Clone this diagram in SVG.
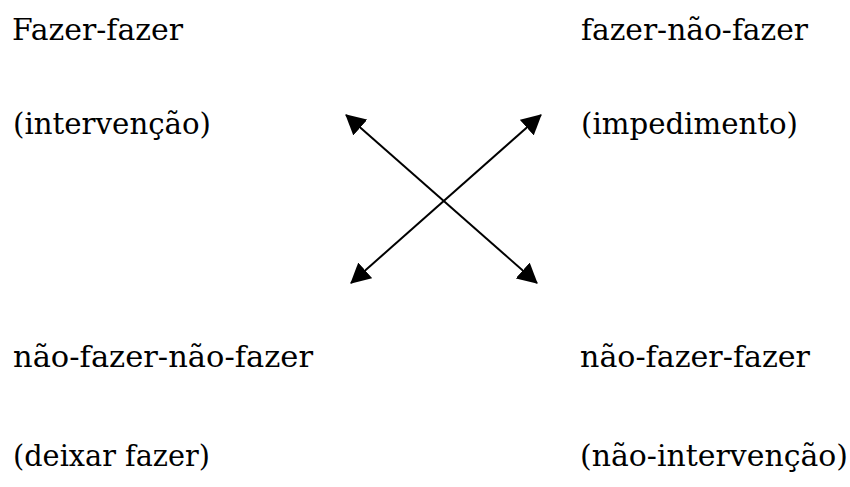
<svg xmlns="http://www.w3.org/2000/svg" width="850" height="487" viewBox="0 0 850 487">
<style>
text{font-family:"DejaVu Serif",serif;font-size:30px;fill:#000}
.c line{stroke:#000;stroke-width:2;fill:none}
</style>
<defs>
<marker id="a" viewBox="0 0 20 21" refX="19" refY="10.5" markerWidth="20" markerHeight="21" markerUnits="userSpaceOnUse" orient="auto-start-reverse">
<path d="M0,0 L20,10.5 L0,21 z" fill="#000"/>
</marker>
</defs>
<rect width="850" height="487" fill="#fff"/>
<g id="n1"><text x="12" y="40" textLength="171" lengthAdjust="spacingAndGlyphs">Fazer-fazer</text><text x="13" y="134" textLength="198" lengthAdjust="spacingAndGlyphs">(intervenção)</text></g>
<g id="n2"><text x="581" y="40" textLength="227" lengthAdjust="spacingAndGlyphs">fazer-não-fazer</text><text x="581" y="134" textLength="217" lengthAdjust="spacingAndGlyphs">(impedimento)</text></g>
<g id="n3"><text x="13" y="367" textLength="300" lengthAdjust="spacingAndGlyphs">não-fazer-não-fazer</text><text x="13" y="466" textLength="197" lengthAdjust="spacingAndGlyphs">(deixar fazer)</text></g>
<g id="n4"><text x="580" y="367" textLength="230" lengthAdjust="spacingAndGlyphs">não-fazer-fazer</text><text x="580" y="466" textLength="268" lengthAdjust="spacingAndGlyphs">(não-intervenção)</text></g>
<g class="c" id="connectors">
<line x1="346" y1="115" x2="537" y2="283" marker-start="url(#a)" marker-end="url(#a)"/>
<line x1="541" y1="115" x2="351" y2="283" marker-start="url(#a)" marker-end="url(#a)"/>
</g>
</svg>
